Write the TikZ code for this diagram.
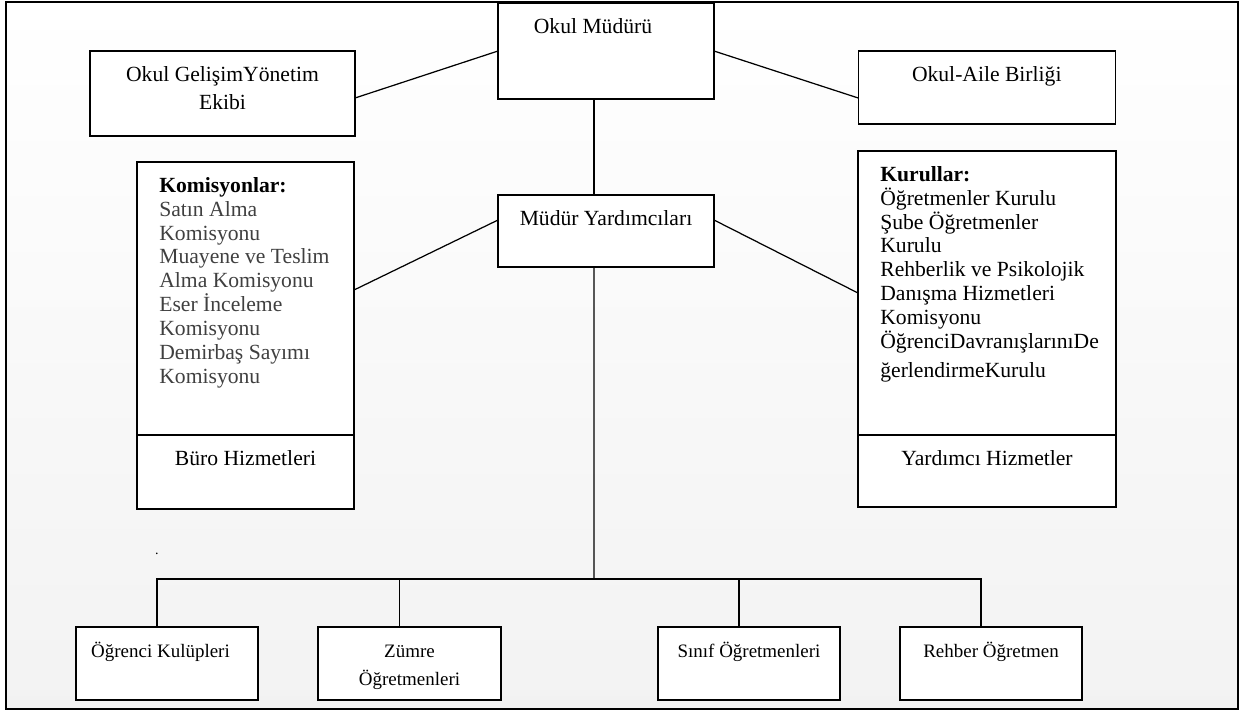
\documentclass[tikz,border=0pt]{standalone}
\usepackage{fontspec}
\setmainfont{Liberation Serif}
\usetikzlibrary{positioning}

\begin{document}
\begin{tikzpicture}[
    every node/.style={font=\fontsize{12.3}{15.9}\selectfont},
    kutu/.style={draw, fill=white, line width=0.7pt, outer sep=0pt},
    yazi/.style={anchor=north, inner sep=0pt, align=center, text height=9pt, yshift=-8pt},
    altyazi/.style={yazi, font=\fontsize{10.8}{15.9}\selectfont},
    liste/.style={anchor=north west, inner sep=0pt, align=left, text height=9pt, xshift=0.44cm, yshift=-8pt, font=\fontsize{12.3}{13.6}\selectfont},
    cizgi/.style={line width=0.7pt}
]
\useasboundingbox (0,0) rectangle (24.86,-14.22);
\fill[top color=white, bottom color=black!5] (0.12,-0.04) rectangle (24.76,-14.18);
\draw[line width=1pt] (0.12,-0.04) rectangle (24.76,-14.18);

\node[kutu, minimum width=4.32cm, minimum height=1.92cm, label={[yazi, xshift=-0.26cm]north:Okul Müdürü}] (mudur) at (12.12,-1.02) {};
\node[kutu, minimum width=4.32cm, minimum height=1.44cm, below=1.92cm of mudur, label={[yazi]north:Müdür Yardımcıları}] (yard) {};
\node[kutu, minimum width=5.3cm, minimum height=1.7cm, label={[yazi]north:\parbox[t]{5cm}{\centering Okul GelişimYönetim\\Ekibi}}] (gelisim) at (4.45,-1.87) {};
\node[kutu, minimum width=5.14cm, minimum height=1.46cm, label={[yazi]north:Okul-Aile Birliği}] (aile) at (19.735,-1.75) {};
\node[kutu, minimum width=4.34cm, minimum height=5.46cm, label={[liste, text=black!75]north west:\parbox[t]{4.2cm}{\textbf{\textcolor{black}{Komisyonlar:}}\\Satın Alma\\Komisyonu\\Muayene ve Teslim\\Alma Komisyonu\\Eser İnceleme\\Komisyonu\\Demirbaş Sayımı\\Komisyonu}}] (komisyon) at (4.91,-5.97) {};
\node[kutu, minimum width=4.34cm, minimum height=1.48cm, below=0pt of komisyon, label={[yazi]north:Büro Hizmetleri}] (buro) {};
\node[kutu, minimum width=5.16cm, minimum height=5.68cm, label={[liste]north west:\parbox[t]{4.6cm}{\textbf{Kurullar:}\\Öğretmenler Kurulu\\Şube Öğretmenler\\Kurulu\\Rehberlik ve Psikolojik\\Danışma Hizmetleri\\Komisyonu\\ÖğrenciDavranışlarınıDe\\[3pt]ğerlendirmeKurulu}}] (kurul) at (19.74,-5.86) {};
\node[kutu, minimum width=5.16cm, minimum height=1.44cm, below=0pt of kurul, label={[yazi]north:Yardımcı Hizmetler}] (yardimci) {};
\node[kutu, minimum width=3.64cm, minimum height=1.46cm, label={[altyazi, xshift=-0.13cm]north:Öğrenci Kulüpleri}] (ogrenci) at (3.34,-13.27) {};
\node[kutu, minimum width=3.66cm, minimum height=1.46cm, right=1.2cm of ogrenci, label={[altyazi]north:\parbox[t]{3.5cm}{\centering Zümre\\Öğretmenleri}}] (zumre) {};
\node[kutu, minimum width=3.64cm, minimum height=1.46cm, right=3.14cm of zumre, label={[altyazi]north:Sınıf Öğretmenleri}] (sinif) {};
\node[kutu, minimum width=3.64cm, minimum height=1.46cm, right=1.2cm of sinif, label={[altyazi]north:Rehber Öğretmen}] (rehber) {};
\node[inner sep=0pt, font=\fontsize{8}{8}\selectfont] (nokta) at (3.14,-11.08) {.};

\draw[cizgi] (mudur.west) -- ([yshift=-0.09cm]gelisim.east);
\draw[cizgi] (mudur.east) -- ([yshift=-0.21cm]aile.west);
\draw[cizgi] ([xshift=-0.24cm]mudur.south) -- ([xshift=-0.24cm]yard.north);
\draw[cizgi] ([yshift=0.22cm]yard.west) -- ([yshift=0.17cm]komisyon.east);
\draw[cizgi] ([yshift=0.22cm]yard.east) -- (kurul.west);
\coordinate (bus) at (11.88,-11.58);
\draw[cizgi] ([xshift=-0.24cm]yard.south) -- (bus);
\draw[cizgi] ([xshift=-0.2cm]ogrenci.north) |- (bus) -| ([xshift=-0.2cm]rehber.north);
\draw[cizgi] ([xshift=-0.2cm]zumre.north) -- ([xshift=-0.2cm]zumre.north |- bus);
\draw[cizgi] ([xshift=-0.2cm]sinif.north) -- ([xshift=-0.2cm]sinif.north |- bus);
\end{tikzpicture}
\end{document}
